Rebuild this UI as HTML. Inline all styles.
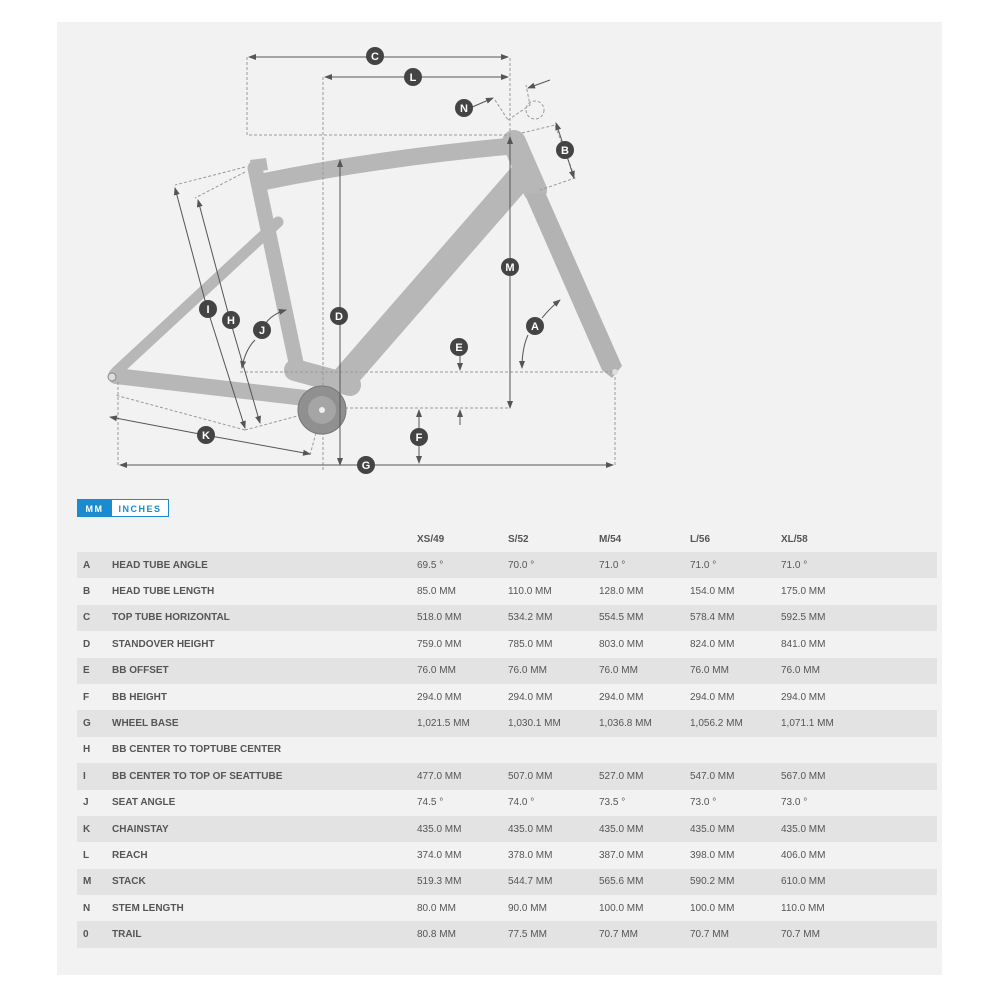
<!DOCTYPE html>
<html><head><meta charset="utf-8"><style>
body{margin:0;background:#fff;width:1000px;height:1000px;position:relative;font-family:"Liberation Sans",sans-serif;overflow:hidden}
#panel{position:absolute;left:57px;top:22px;width:885px;height:953px;background:#f2f2f2}
svg{position:absolute;left:0;top:0}
.tg{position:absolute;top:499px;height:18px;font-size:9px;font-weight:bold;letter-spacing:1.5px;line-height:18px;text-align:center;box-sizing:border-box}
table{position:absolute;left:77px;top:526px;width:860px;border-collapse:collapse;font-size:10px;color:#555}
td{height:26.4px;padding:0;white-space:nowrap}
tr.h td{font-weight:bold;height:26px}
tr.d td{background:#e3e3e3}
td.l{padding-left:6px;width:29px;font-weight:bold}
td.n{width:305px;font-weight:bold}
td.v{width:91px}
</style></head><body>
<div id="panel"></div>
<svg width="1000" height="490" viewBox="0 0 1000 490">
<defs><marker id="a" markerWidth="8" markerHeight="8" refX="7" refY="4" orient="auto" markerUnits="userSpaceOnUse"><path d="M0,1 L8,4 L0,7z" fill="#555"/></marker></defs>
<!-- frame -->
<g fill="none" stroke="#b7b7b7" stroke-linecap="round" stroke-linejoin="round">
<path d="M116,372 L278,222" stroke-width="11"/>
<path d="M116,376 L305,398" stroke-width="16"/>
<path d="M255,168 L298,372" stroke-width="15"/>
<path d="M262,182 Q380,158 512,146" stroke-width="17"/>
<path d="M522,175 L345,378" stroke-width="26"/>
<path d="M514,142 L535,190" stroke-width="24"/>
<path d="M295,370 L350,385" stroke-width="22"/>
</g>
<path d="M525,195 L545,192 L622,366 L612,378 L602,370 Z" fill="#b3b3b3"/>
<path d="M250,160 L266,158 L268,170 L252,172Z" fill="#b7b7b7"/>
<g fill="none" stroke="#999" stroke-dasharray="3,2" stroke-width="1">
<path d="M247,57V135H510V57M323,77V470M240,372H615M340,408H510M118,465V380M615,465V372M245,430L115,395M310,455L320,418M245,167L175,185M245,172L195,198M245,430L320,410M522,133L555,125L575,178L540,190M508,120L530,105L526,85M495,100L508,120"/>
<circle cx="535" cy="110" r="9"/>
</g>
<circle cx="322" cy="410" r="24" fill="#909090" stroke="#777"/>
<circle cx="322" cy="410" r="14" fill="#a5a5a5"/>
<circle cx="322" cy="410" r="3" fill="#eee"/>
<circle cx="112" cy="377" r="4" fill="#ddd" stroke="#888"/>
<circle cx="615" cy="372" r="3" fill="#ddd"/>
<g stroke="#555" stroke-width="1" marker-end="url(#a)">
<line x1="378" y1="57" x2="249" y2="57"/><line x1="378" y1="57" x2="508" y2="57"/>
<line x1="415" y1="77" x2="325" y2="77"/><line x1="415" y1="77" x2="508" y2="77"/>
<line x1="340" y1="315" x2="340" y2="160"/><line x1="340" y1="315" x2="340" y2="465"/>
<line x1="510" y1="265" x2="510" y2="137"/><line x1="510" y1="265" x2="510" y2="408"/>
<line x1="366" y1="465" x2="120" y2="465"/><line x1="366" y1="465" x2="613" y2="465"/>
<line x1="419" y1="437" x2="419" y2="410"/><line x1="419" y1="437" x2="419" y2="463"/>
<line x1="460" y1="355" x2="460" y2="370"/><line x1="460" y1="425" x2="460" y2="410"/>
<line x1="207" y1="308" x2="175" y2="188"/><line x1="207" y1="308" x2="245" y2="428"/>
<line x1="230" y1="320" x2="198" y2="200"/><line x1="230" y1="320" x2="260" y2="423"/>
<line x1="205" y1="435" x2="110" y2="417"/><line x1="205" y1="435" x2="310" y2="454"/>
<line x1="470" y1="108" x2="493" y2="98"/>
<line x1="550" y1="80" x2="528" y2="88"/>
<line x1="565" y1="150" x2="556" y2="123"/><line x1="565" y1="150" x2="574" y2="178"/>
<path d="M262,330 Q268,315 286,310" fill="none"/>
<path d="M255,340 Q245,350 242,368" fill="none"/>
<path d="M542,318 Q550,308 560,300" fill="none"/>
<path d="M528,335 Q522,348 522,368" fill="none"/>
</g>
<g font-size="11" font-weight="bold" fill="#fff" text-anchor="middle">
<g fill="#444"><circle cx="375" cy="56" r="9"/><circle cx="413" cy="77" r="9"/><circle cx="464" cy="108" r="9"/><circle cx="565" cy="150" r="9"/><circle cx="510" cy="267" r="9"/><circle cx="339" cy="316" r="9"/><circle cx="535" cy="326" r="9"/><circle cx="459" cy="347" r="9"/><circle cx="208" cy="309" r="9"/><circle cx="231" cy="320" r="9"/><circle cx="262" cy="330" r="9"/><circle cx="206" cy="435" r="9"/><circle cx="419" cy="437" r="9"/><circle cx="366" cy="465" r="9"/></g>
<text x="375" y="60">C</text><text x="413" y="81">L</text><text x="464" y="112">N</text><text x="565" y="154">B</text><text x="510" y="271">M</text><text x="339" y="320">D</text><text x="535" y="330">A</text><text x="459" y="351">E</text><text x="208" y="313">I</text><text x="231" y="324">H</text><text x="262" y="334">J</text><text x="206" y="439">K</text><text x="419" y="441">F</text><text x="366" y="469">G</text>
</g>
</svg>
<div class="tg" style="left:77px;width:35px;background:#1a8bcf;color:#fff;border:1px solid #1a8bcf">MM</div>
<div class="tg" style="left:111px;width:58px;background:#fff;color:#1a8bcf;border:1px solid #1a8bcf">INCHES</div>
<table>
<tr class="h"><td class="l"></td><td class="n"></td><td class="v">XS/49</td><td class="v">S/52</td><td class="v">M/54</td><td class="v">L/56</td><td>XL/58</td></tr>
<tr class="d"><td class="l">A</td><td class="n">HEAD TUBE ANGLE</td><td>69.5 °</td><td>70.0 °</td><td>71.0 °</td><td>71.0 °</td><td>71.0 °</td></tr>
<tr><td class="l">B</td><td class="n">HEAD TUBE LENGTH</td><td>85.0 MM</td><td>110.0 MM</td><td>128.0 MM</td><td>154.0 MM</td><td>175.0 MM</td></tr>
<tr class="d"><td class="l">C</td><td class="n">TOP TUBE HORIZONTAL</td><td>518.0 MM</td><td>534.2 MM</td><td>554.5 MM</td><td>578.4 MM</td><td>592.5 MM</td></tr>
<tr><td class="l">D</td><td class="n">STANDOVER HEIGHT</td><td>759.0 MM</td><td>785.0 MM</td><td>803.0 MM</td><td>824.0 MM</td><td>841.0 MM</td></tr>
<tr class="d"><td class="l">E</td><td class="n">BB OFFSET</td><td>76.0 MM</td><td>76.0 MM</td><td>76.0 MM</td><td>76.0 MM</td><td>76.0 MM</td></tr>
<tr><td class="l">F</td><td class="n">BB HEIGHT</td><td>294.0 MM</td><td>294.0 MM</td><td>294.0 MM</td><td>294.0 MM</td><td>294.0 MM</td></tr>
<tr class="d"><td class="l">G</td><td class="n">WHEEL BASE</td><td>1,021.5 MM</td><td>1,030.1 MM</td><td>1,036.8 MM</td><td>1,056.2 MM</td><td>1,071.1 MM</td></tr>
<tr><td class="l">H</td><td class="n">BB CENTER TO TOPTUBE CENTER</td><td></td><td></td><td></td><td></td><td></td></tr>
<tr class="d"><td class="l">I</td><td class="n">BB CENTER TO TOP OF SEATTUBE</td><td>477.0 MM</td><td>507.0 MM</td><td>527.0 MM</td><td>547.0 MM</td><td>567.0 MM</td></tr>
<tr><td class="l">J</td><td class="n">SEAT ANGLE</td><td>74.5 °</td><td>74.0 °</td><td>73.5 °</td><td>73.0 °</td><td>73.0 °</td></tr>
<tr class="d"><td class="l">K</td><td class="n">CHAINSTAY</td><td>435.0 MM</td><td>435.0 MM</td><td>435.0 MM</td><td>435.0 MM</td><td>435.0 MM</td></tr>
<tr><td class="l">L</td><td class="n">REACH</td><td>374.0 MM</td><td>378.0 MM</td><td>387.0 MM</td><td>398.0 MM</td><td>406.0 MM</td></tr>
<tr class="d"><td class="l">M</td><td class="n">STACK</td><td>519.3 MM</td><td>544.7 MM</td><td>565.6 MM</td><td>590.2 MM</td><td>610.0 MM</td></tr>
<tr><td class="l">N</td><td class="n">STEM LENGTH</td><td>80.0 MM</td><td>90.0 MM</td><td>100.0 MM</td><td>100.0 MM</td><td>110.0 MM</td></tr>
<tr class="d"><td class="l">0</td><td class="n">TRAIL</td><td>80.8 MM</td><td>77.5 MM</td><td>70.7 MM</td><td>70.7 MM</td><td>70.7 MM</td></tr>
</table>
</body></html>
